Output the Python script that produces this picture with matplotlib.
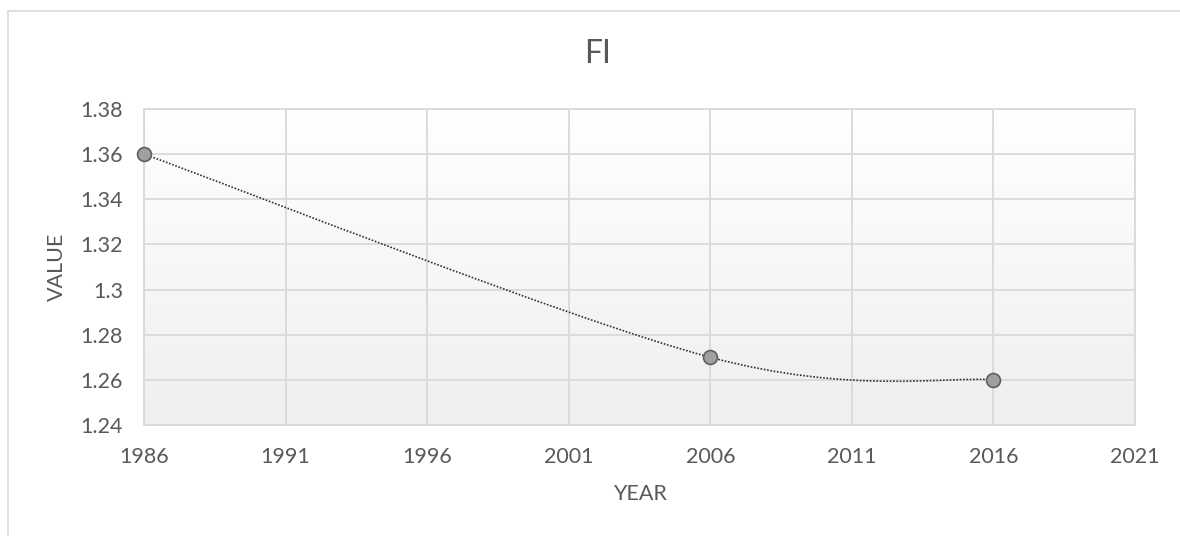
import numpy as np
import matplotlib.pyplot as plt
from matplotlib.path import Path
from matplotlib.patches import PathPatch, Rectangle

# data
years = [1986, 2006, 2016]
values = [1.36, 1.27, 1.26]
x_ticks = [1986, 1991, 1996, 2001, 2006, 2011, 2016, 2021]
y_ticks = [1.24, 1.26, 1.28, 1.30, 1.32, 1.34, 1.36, 1.38]
y_tick_labels = ['1.24', '1.26', '1.28', '1.3', '1.32', '1.34', '1.36', '1.38']

plt.rcParams['font.family'] = ['Lato', 'DejaVu Sans']
txt = '#595959'
grid_c = '#d9d9d9'

fig = plt.figure(figsize=(11.8, 5.36), dpi=100)
ax = fig.add_axes([144 / 1180, 111 / 536, 991 / 1180, 316 / 536])

# chart area border (only top/left visible)
fig.patches.append(Rectangle((8 / 1180, -0.1), 1.2, (536 - 11) / 536 + 0.1,
                             transform=fig.transFigure, fill=False,
                             edgecolor=grid_c, lw=1.2))

# gradient background of plot area
grad = np.linspace(0, 1, 256).reshape(-1, 1)
ax.imshow(grad, extent=[0, 1, 0, 1], transform=ax.transAxes, aspect='auto',
          cmap=plt.matplotlib.colors.LinearSegmentedColormap.from_list('g', ['#ffffff', '#efefef']),
          zorder=0, interpolation='bilinear')

ax.set_xlim(x_ticks[0], x_ticks[-1])
ax.set_ylim(y_ticks[0], y_ticks[-1])
ax.set_xticks(x_ticks)
ax.set_yticks(y_ticks)
ax.set_yticklabels(y_tick_labels)
ax.grid(True, color=grid_c, lw=1.3, zorder=1)
ax.set_axisbelow(False)
for s in ax.spines.values():
    s.set_color(grid_c)
    s.set_linewidth(1.3)
ax.tick_params(length=0, labelsize=15.5, colors=txt)
ax.tick_params(axis='y', pad=15)
ax.tick_params(axis='x', pad=16)

# smoothed line (Excel-style bezier through the points)
P = np.column_stack([years, values]).astype(float)
verts = [tuple(P[0])]
codes = [Path.MOVETO]
for i in range(len(P) - 1):
    prev_p = P[i - 1] if i > 0 else P[i]
    next_p = P[i + 2] if i + 2 < len(P) else P[i + 1]
    c1 = P[i] + (P[i + 1] - prev_p) / 6
    c2 = P[i + 1] - (next_p - P[i]) / 6
    verts += [tuple(c1), tuple(c2), tuple(P[i + 1])]
    codes += [Path.CURVE4] * 3
ax.add_patch(PathPatch(Path(verts, codes), fill=False, edgecolor='#333333',
                       lw=1.2, linestyle=(0, (1, 1)), zorder=3))

ax.plot(years, values, linestyle='none', marker='o', markersize=10,
        markerfacecolor='#a0a0a0', markeredgecolor='#606060',
        markeredgewidth=1.2, zorder=4, clip_on=False)

ax.set_xlabel('YEAR', fontsize=15.5, color=txt)
ax.set_ylabel('VALUE', fontsize=15.5, color=txt)
ax.xaxis.set_label_coords(0.5, (425 - 494) / 316)
ax.yaxis.set_label_coords((57 - 144) / 991, 0.5)
ax.xaxis.label.set_va('center')
ax.yaxis.label.set_va('center')
fig.text(598 / 1180, 1 - 54 / 536, 'FI', fontsize=23, color=txt,
         ha='center', va='center')

fig.savefig('out.png', dpi=100)
